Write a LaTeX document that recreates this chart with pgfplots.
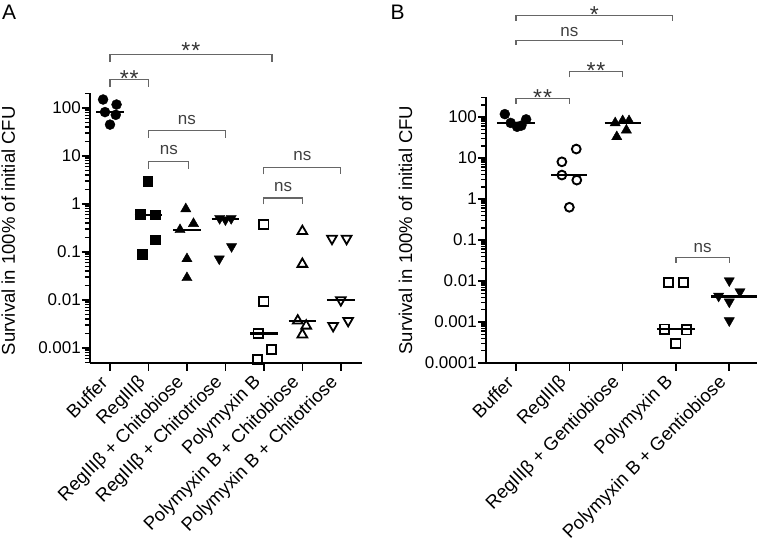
\documentclass[border=0pt]{standalone}
\usepackage{fontspec}
\setmainfont{Liberation Sans}
\usepackage{pgfplots}
\pgfplotsset{compat=1.18}

\newcommand{\tickfont}{\fontsize{17}{20}\selectfont}
\newcommand{\xlabfont}{\fontsize{18.5}{21}\selectfont}
\newcommand{\labfont}{\fontsize{18.5}{22}\selectfont}

\pgfplotsset{
  med/.style={black, line width=2.2pt, forget plot},
  fcirc/.style={only marks, mark=*, mark size=5pt, black},
  ocirc/.style={only marks, mark=o, mark size=4.4pt, black, mark options={line width=1.9pt}},
  fsq/.style={only marks, mark=square*, mark size=4.9pt, black},
  osq/.style={only marks, mark=square, mark size=4.6pt, black, mark options={line width=1.8pt}},
  ftri/.style={only marks, mark=triangle*, mark size=5.9pt, black},
  otri/.style={only marks, mark=triangle, mark size=5.6pt, black, mark options={line width=1.8pt}},
  finv/.style={only marks, mark=triangle*, mark size=5.9pt, black, mark options={rotate=180}},
  oinv/.style={only marks, mark=triangle, mark size=5.6pt, black, mark options={rotate=180, line width=1.8pt}},
}
\tikzset{
  bracket/.style={draw=black!60, line width=1.1pt},
  sig/.style={font=\tickfont, text=black!75, inner sep=0pt},
  star/.style={font=\fontsize{23}{25}\selectfont, text=black!80, inner sep=0pt},
}

\begin{document}
\begin{tikzpicture}
\useasboundingbox (0,0) rectangle (758pt,549pt);

% ---------- panel A
\begin{axis}[
  scale only axis,
  anchor=south west,
  ymode=log,
  clip=false,
  axis lines=left,
  axis line style={black, line width=2.6pt, -},
  tick align=outside,
  major tick length=8pt,
  minor tick length=5pt,
  tick style={black, line width=1.6pt},
  tick label style={font=\tickfont},
  yticklabel style={inner sep=1pt},
  xticklabel style={font=\xlabfont, xshift=-5pt, yshift=-8pt, rotate=45, anchor=east, inner sep=1pt},
  ylabel={Survival in 100\% of initial CFU},
  ylabel style={font=\labfont, anchor=base, at={(axis description cs:-0.276,0.49)}},
  at={(90pt,186pt)}, width=272pt, height=270pt,
  xmin=-0.52, xmax=6.55,
  ymin=4.87e-4, ymax=205,
  xtick={0,...,6},
  xticklabels={Buffer, RegIIIβ, RegIIIβ + Chitobiose, RegIIIβ + Chitotriose,
    Polymyxin B, Polymyxin B + Chitobiose, Polymyxin B + Chitotriose},
  ytick={0.001,0.01,0.1,1,10,100},
  yticklabels={0.001,0.01,0.1,1,10,100},
  minor ytick={5e-4,6e-4,7e-4,8e-4,9e-4,
    2e-3,3e-3,4e-3,5e-3,6e-3,7e-3,8e-3,9e-3,
    2e-2,3e-2,4e-2,5e-2,6e-2,7e-2,8e-2,9e-2,
    0.2,0.3,0.4,0.5,0.6,0.7,0.8,0.9,
    2,3,4,5,6,7,8,9,
    20,30,40,50,60,70,80,90,200},
]
% Buffer
\addplot[med] coordinates {(-0.36,82) (0.36,82)};
\addplot[fcirc] coordinates {(-0.18,150) (0.17,118) (-0.13,82) (0.15,72) (0,45)};
% RegIIIb
\addplot[med] coordinates {(0.64,0.6) (1.36,0.6)};
\addplot[fsq] coordinates {(0.98,3.0) (0.79,0.62) (1.17,0.6) (1.17,0.18) (0.83,0.09)};
% RegIIIb + chitobiose
\addplot[med] coordinates {(1.64,0.29) (2.36,0.29)};
\addplot[ftri] coordinates {(1.97,0.79) (2.17,0.39) (1.82,0.29) (2,0.072) (2,0.029)};
% RegIIIb + chitotriose
\addplot[med] coordinates {(2.64,0.48) (3.36,0.48)};
\addplot[finv] coordinates {(2.85,0.5) (3,0.47) (3.15,0.5) (3.16,0.13) (2.84,0.072)};
% Polymyxin B
\addplot[med] coordinates {(3.64,0.002) (4.36,0.002)};
\addplot[osq] coordinates {(4,0.37) (4,0.0094) (3.85,0.002) (4.2,0.00093) (3.83,0.00058)};
% Polymyxin B + chitobiose
\addplot[med] coordinates {(4.64,0.0036) (5.36,0.0036)};
\addplot[otri] coordinates {(5,0.27) (5,0.056) (4.88,0.0037) (5.1,0.0029) (5,0.0019)};
% Polymyxin B + chitotriose
\addplot[med] coordinates {(5.64,0.01) (6.36,0.01)};
\addplot[oinv] coordinates {(5.77,0.19) (6.15,0.19) (6,0.01) (5.8,0.0029) (6.19,0.0037)};

% significance brackets
\draw[bracket] (axis cs:0,900) |- (axis cs:4.21,1283) -- (axis cs:4.21,900);
\node[star] at (axis cs:2.1,1600) {*\kern1pt*};
\draw[bracket] (axis cs:0,271) |- (axis cs:1,387) -- (axis cs:1,271);
\node[star] at (axis cs:0.5,410) {*\kern1pt*};
\draw[bracket] (axis cs:1,23.9) |- (axis cs:3,34) -- (axis cs:3,23.9);
\node[sig] at (axis cs:2,56.7) {ns};
\draw[bracket] (axis cs:1,5.41) |- (axis cs:2.05,7.67) -- (axis cs:2.05,5.41);
\node[sig] at (axis cs:1.53,13) {ns};
\draw[bracket] (axis cs:4,4.12) |- (axis cs:6,5.85) -- (axis cs:6,4.12);
\node[sig] at (axis cs:5,9.77) {ns};
\draw[bracket] (axis cs:4,0.976) |- (axis cs:5,1.33) -- (axis cs:5,0.976);
\node[sig] at (axis cs:4.5,2.24) {ns};
\end{axis}

% ---------- panel B
\begin{axis}[
  scale only axis,
  anchor=south west,
  ymode=log,
  clip=false,
  axis lines=left,
  axis line style={black, line width=2.6pt, -},
  tick align=outside,
  major tick length=8pt,
  minor tick length=5pt,
  tick style={black, line width=1.6pt},
  tick label style={font=\tickfont},
  yticklabel style={inner sep=1pt},
  xticklabel style={font=\xlabfont, xshift=-5pt, yshift=-8pt, rotate=45, anchor=east, inner sep=1pt},
  ylabel={Survival in 100\% of initial CFU},
  ylabel style={font=\labfont, anchor=base, at={(axis description cs:-0.273,0.5)}},
  at={(486pt,186pt)}, width=271pt, height=266pt,
  xmin=-0.563, xmax=4.52,
  ymin=1e-4, ymax=309,
  xtick={0,...,4},
  xticklabels={Buffer, RegIIIβ, RegIIIβ + Gentiobiose, Polymyxin B,
    Polymyxin B + Gentiobiose},
  ytick={0.0001,0.001,0.01,0.1,1,10,100},
  yticklabels={0.0001,0.001,0.01,0.1,1,10,100},
  minor ytick={2e-4,3e-4,4e-4,5e-4,6e-4,7e-4,8e-4,9e-4,
    2e-3,3e-3,4e-3,5e-3,6e-3,7e-3,8e-3,9e-3,
    2e-2,3e-2,4e-2,5e-2,6e-2,7e-2,8e-2,9e-2,
    0.2,0.3,0.4,0.5,0.6,0.7,0.8,0.9,
    2,3,4,5,6,7,8,9,
    20,30,40,50,60,70,80,90,200,300},
]
% Buffer
\addplot[med] coordinates {(-0.36,72) (0.36,72)};
\addplot[fcirc] coordinates {(-0.21,118) (-0.1,72) (0.02,58) (0.1,62) (0.19,88)};
% RegIIIb
\addplot[med] coordinates {(0.66,3.85) (1.34,3.85)};
\addplot[ocirc] coordinates {(1.13,16.6) (0.86,8.1) (0.86,3.85) (1.14,2.9) (1,0.63)};
% RegIIIb + gentiobiose
\addplot[med] coordinates {(1.66,72) (2.34,72)};
\addplot[ftri] coordinates {(1.86,72) (2,81) (2.12,81) (2.07,48) (1.89,33)};
% Polymyxin B
\addplot[med] coordinates {(2.64,0.00067) (3.36,0.00067)};
\addplot[osq] coordinates {(2.86,0.0091) (3.14,0.0091) (2.78,0.00067) (3.2,0.00064) (3,0.0003)};
% Polymyxin B + gentiobiose
\addplot[med] coordinates {(3.66,0.0042) (4.52,0.0042)};
\addplot[finv] coordinates {(4,0.0102) (3.8,0.0043) (4.2,0.0055) (4,0.0031) (4,0.00108)};

% significance brackets
\draw[bracket] (axis cs:0,22340) |- (axis cs:2.94,29580) -- (axis cs:2.94,22340);
\node[star] at (axis cs:1.47,31500) {*};
\draw[bracket] (axis cs:0,5702) |- (axis cs:2,7551) -- (axis cs:2,5702);
\node[sig] at (axis cs:1,12020) {ns};
\draw[bracket] (axis cs:1,929) |- (axis cs:2,1273) -- (axis cs:2,929);
\node[star] at (axis cs:1.5,1380) {*\kern1pt*};
\draw[bracket] (axis cs:0,207) |- (axis cs:1,286) -- (axis cs:1,207);
\node[star] at (axis cs:0.5,305) {*\kern1pt*};
\draw[bracket] (axis cs:3,0.0279) |- (axis cs:4,0.037) -- (axis cs:4,0.0279);
\node[sig] at (axis cs:3.5,0.0628) {ns};
\end{axis}

\node[font=\fontsize{21}{24}\selectfont, inner sep=0pt] at (9.2pt,536.5pt) {A};
\node[font=\fontsize{21}{24}\selectfont, inner sep=0pt] at (397.5pt,536.5pt) {B};
\end{tikzpicture}
\end{document}
